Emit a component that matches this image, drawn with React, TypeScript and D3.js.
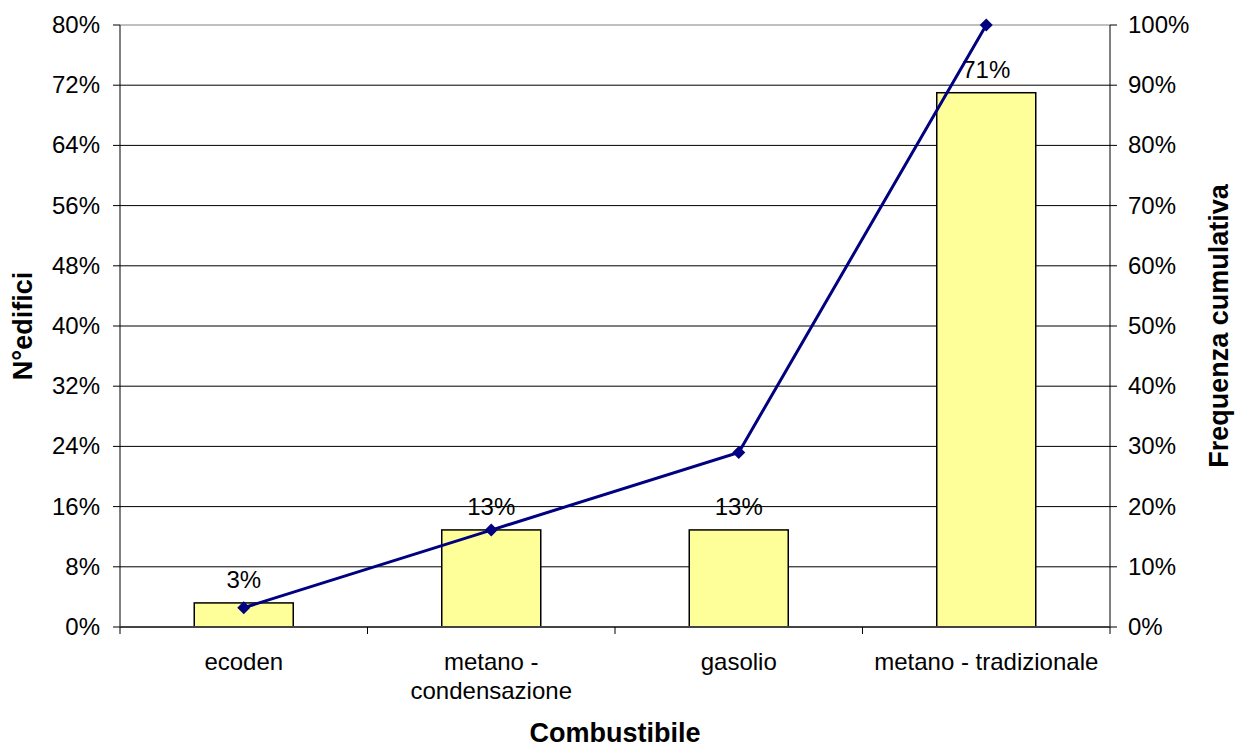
import React from "react";
import * as d3 from "d3";

const categories = ["ecoden", "metano - condensazione", "gasolio", "metano - tradizionale"];
const categoryLines = [["ecoden"], ["metano -", "condensazione"], ["gasolio"], ["metano - tradizionale"]];
const barValues = [0.032, 0.129, 0.129, 0.71];
const barLabels = ["3%", "13%", "13%", "71%"];
const cumulativeValues = [0.032, 0.161, 0.29, 1.0];
const leftTicks = [0, 0.08, 0.16, 0.24, 0.32, 0.4, 0.48, 0.56, 0.64, 0.72, 0.8];
const rightTicks = [0, 0.1, 0.2, 0.3, 0.4, 0.5, 0.6, 0.7, 0.8, 0.9, 1.0];

const W = 1236, H = 749;
const L = 120, R = 1110, T = 25, B = 627;
const font = "Arial, 'Liberation Sans', sans-serif";

export default function App() {
  const x = d3.scaleBand<string>().domain(categories).range([L, R]).paddingInner(0).paddingOuter(0);
  const yL = d3.scaleLinear().domain([0, 0.8]).range([B, T]);
  const yR = d3.scaleLinear().domain([0, 1]).range([B, T]);
  const bw = x.bandwidth() * 0.4;
  const line = d3.line<number>()
    .x((_, i) => (x(categories[i]) as number) + x.bandwidth() / 2)
    .y((d) => yR(d));
  const pct = d3.format(".0%");
  const boundaries = categories.map((c) => x(c) as number).concat([R]);

  return (
    <svg width={W} height={H} style={{ position: "absolute", left: 0, top: 0, background: "#fff" }} fontFamily={font}>
      {/* gridlines */}
      {leftTicks.map((t, i) => (
        <line key={"g" + i} x1={L} x2={R} y1={yL(t)} y2={yL(t)} stroke={i === leftTicks.length - 1 ? "#808080" : "#000"} strokeWidth={1} />
      ))}
      {/* bars */}
      {categories.map((c, i) => {
        const cx = (x(c) as number) + x.bandwidth() / 2;
        return (
          <g key={"b" + i}>
            <rect x={cx - bw / 2} y={yL(barValues[i])} width={bw} height={B - yL(barValues[i])} fill="#FFFF99" stroke="#000" strokeWidth={1.5} />
            <text x={cx} y={yL(barValues[i]) - 15} textAnchor="middle" fontSize={24} fill="#000">{barLabels[i]}</text>
          </g>
        );
      })}
      {/* left axis */}
      <line x1={L} x2={L} y1={T} y2={B} stroke="#000" strokeWidth={1} />
      {leftTicks.map((t, i) => (
        <g key={"l" + i}>
          <line x1={L - 7} x2={L} y1={yL(t)} y2={yL(t)} stroke="#000" />
          <text x={L - 20} y={yL(t) + 8} textAnchor="end" fontSize={24}>{pct(t)}</text>
        </g>
      ))}
      {/* right axis */}
      <line x1={R} x2={R} y1={T} y2={B} stroke="#000" strokeWidth={1} />
      {rightTicks.map((t, i) => (
        <g key={"r" + i}>
          <line x1={R} x2={R + 7} y1={yR(t)} y2={yR(t)} stroke="#000" />
          <text x={R + 18} y={yR(t) + 8} textAnchor="start" fontSize={24}>{pct(t)}</text>
        </g>
      ))}
      {/* bottom axis */}
      <line x1={L} x2={R} y1={B} y2={B} stroke="#444" strokeWidth={2} />
      {boundaries.map((bx, i) => (
        <line key={"t" + i} x1={bx} x2={bx} y1={B} y2={B + 7} stroke="#000" />
      ))}
      {categoryLines.map((ls, i) => {
        const cx = (x(categories[i]) as number) + x.bandwidth() / 2;
        return (
          <text key={"c" + i} x={cx} y={670} textAnchor="middle" fontSize={24}>
            {ls.map((s, j) => (
              <tspan key={j} x={cx} dy={j === 0 ? 0 : 29}>{s}</tspan>
            ))}
          </text>
        );
      })}
      {/* cumulative line */}
      <path d={line(cumulativeValues) || ""} fill="none" stroke="#000080" strokeWidth={3} />
      {cumulativeValues.map((v, i) => {
        const cx = (x(categories[i]) as number) + x.bandwidth() / 2;
        const cy = yR(v);
        const s = 6.5;
        return <path key={"m" + i} d={`M${cx},${cy - s}L${cx + s},${cy}L${cx},${cy + s}L${cx - s},${cy}Z`} fill="#000080" />;
      })}
      {/* titles */}
      <text x={615} y={742} textAnchor="middle" fontSize={27} fontWeight="bold">Combustibile</text>
      <text transform={`translate(32,${(T + B) / 2}) rotate(-90)`} textAnchor="middle" fontSize={27} fontWeight="bold">N°edifici</text>
      <text transform={`translate(1228,${(T + B) / 2}) rotate(-90)`} textAnchor="middle" fontSize={27} fontWeight="bold">Frequenza cumulativa</text>
    </svg>
  );
}
